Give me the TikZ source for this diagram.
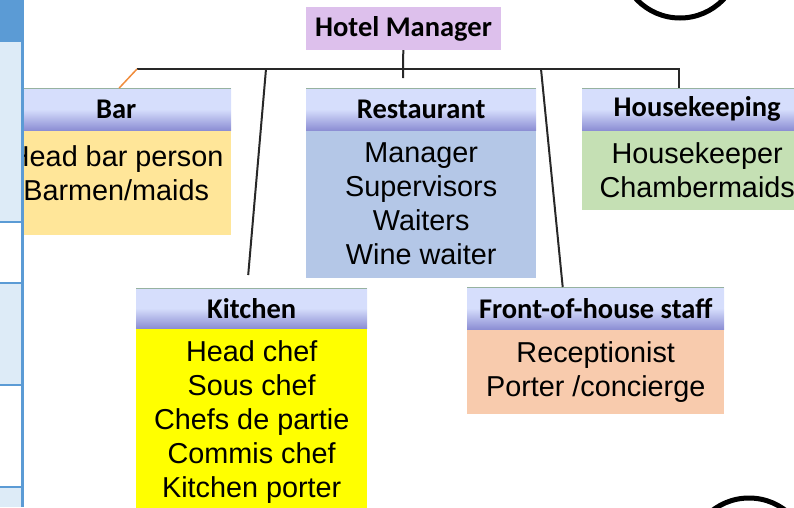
\documentclass[tikz,border=0pt]{standalone}
\usepackage{fontspec}
\setmainfont{Liberation Sans}
\newfontfamily\headfont{Carlito}
\usetikzlibrary{positioning}

\definecolor{headtop}{RGB}{214,222,252}
\definecolor{headbot}{RGB}{140,142,212}
\definecolor{headrule}{RGB}{150,178,160}
\definecolor{managerfill}{RGB}{221,192,236}
\definecolor{barfill}{RGB}{255,230,153}
\definecolor{restfill}{RGB}{180,199,231}
\definecolor{hkfill}{RGB}{197,224,180}
\definecolor{kitfill}{RGB}{255,255,0}
\definecolor{fohfill}{RGB}{248,203,173}
\definecolor{linkgray}{RGB}{40,40,40}
\definecolor{barorange}{RGB}{240,140,60}
\definecolor{cellblue}{RGB}{91,155,213}
\definecolor{celllight}{RGB}{221,235,247}

\begin{document}
\begin{tikzpicture}[x=1pt, y=-1pt,
    head/.style={anchor=north west, minimum width=230pt, minimum height=42pt,
      inner sep=0pt, top color=headtop, bottom color=headbot, middle color=headtop,
      font=\headfont\bfseries\fontsize{28.5}{32}\selectfont},
    staff/.style={minimum width=230pt, inner xsep=0pt, inner ysep=12pt,
      align=center, font=\fontsize{28.8}{34}\selectfont},
    link/.style={draw=linkgray, line width=2pt},
    tableline/.style={draw=cellblue, line width=2pt}]
    \useasboundingbox (0,0) rectangle (794,507);

    \node[fill=managerfill, minimum width=195pt, minimum height=43pt, inner sep=0pt,
      font=\headfont\bfseries\fontsize{28.5}{32}\selectfont] (hotel) at (403.5,28.5) {Hotel Manager};

    \node[head] (barhead) at (1,88) {Bar};
    \node[staff, fill=barfill, minimum height=104pt, below=0pt of barhead] (barbody)
      {Head bar person\\Barmen/maids\\[-14pt]\mbox{}};

    \node[head] (resthead) at (306,88) {Restaurant};
    \node[staff, fill=restfill, minimum height=147pt, below=0pt of resthead] (restbody)
      {Manager\\Supervisors\\Waiters\\Wine waiter};

    \node[head] (hkhead) at (582,88) {Housekeeping};
    \node[staff, fill=hkfill, minimum height=78pt, below=0pt of hkhead] (hkbody)
      {Housekeeper\\Chambermaids};

    \node[head, minimum width=231pt, minimum height=40pt] (kithead) at (136,288) {Kitchen};
    \node[staff, fill=kitfill, minimum width=231pt, minimum height=186pt, below=0pt of kithead] (kitbody)
      {Head chef\\Sous chef\\Chefs de partie\\Commis chef\\Kitchen porter};

    \node[head, minimum width=257pt] (fohhead) at (467,287) {Front-of-house staff};
    \node[staff, fill=fohfill, minimum width=257pt, minimum height=78pt, below=0pt of fohhead] (fohbody)
      {Receptionist\\Porter /concierge};

    \foreach \h in {barhead,resthead,hkhead,kithead,fohhead}
      \draw[headrule, line width=1pt] (\h.north west) -- (\h.north east);

    % connectors
    \coordinate (bus west) at (137,69);
    \coordinate (bus east) at (679,69);
    \coordinate (hotel stub) at (403,78);
    \coordinate (kit fork) at (266,69);
    \coordinate (foh fork) at (541,69);
    \draw[link] (hotel) -- (hotel stub);
    \draw[link] (bus west) -- (bus east) -- (bus east |- hkhead.north);
    \draw[link] (kit fork) -- ([xshift=-3.5pt,yshift=13pt]kithead.north);
    \draw[link] (foh fork) -- ([xshift=-33pt]fohhead.north);
    \draw[barorange, line width=1.5pt] (bus west) -- ([xshift=3pt]barhead.north);

    % table at the left edge
    \fill[white] (0,0) rectangle (23,507);
    \fill[cellblue] (0,0) rectangle (22,42);
    \foreach \a/\b in {42/222,283/385,487/507}
      \fill[celllight] (0,\a) rectangle (21,\b);
    \foreach \y in {222,283,385,487}
      \draw[tableline] (0,\y) -- (22,\y);
    \draw[tableline, line width=3pt] (22.5,0) -- (22.5,507);

    % circles
    \draw[line width=5pt] (680,-42) circle[radius=60pt];
    \draw[line width=5pt] (749,558) circle[radius=60pt];
  \end{tikzpicture}
\end{document}
